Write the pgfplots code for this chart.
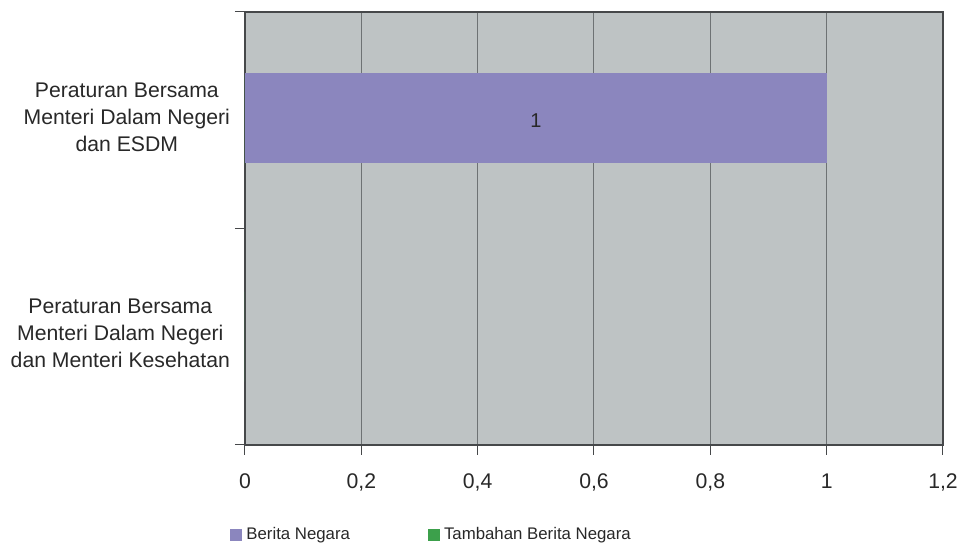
\documentclass[border=0pt]{standalone}
\usepackage{fontspec}
\setmainfont{Liberation Sans}
\usepackage{pgfplots}
\pgfplotsset{compat=1.18}
\definecolor{plotbg}{RGB}{190,195,196}
\definecolor{gridc}{RGB}{110,114,116}
\definecolor{axisc}{RGB}{70,72,74}
\definecolor{bnpurple}{RGB}{139,134,190}
\definecolor{tbngreen}{RGB}{60,160,75}
\definecolor{txt}{RGB}{40,40,40}
\begin{document}
\begin{tikzpicture}
\useasboundingbox (-122.5pt,-53pt) rectangle (357.5pt,222.5pt);
\begin{axis}[
  at={(0pt,0pt)}, anchor=south west,
  scale only axis, width=349pt, height=216.5pt,
  xmin=0, xmax=1.2, ymin=-0.5, ymax=1.5,
  axis background/.style={fill=plotbg},
  axis line style={axisc, line width=0.6pt},
  xtick={0,0.2,0.4,0.6,0.8,1,1.2},
  xtick pos=bottom, ytick pos=left,
  tick align=outside, major tick length=5pt,
  tick style={axisc, line width=0.5pt},
  xmajorgrids, grid style={gridc, line width=0.5pt},
  /pgf/number format/use comma,
  /pgf/number format/assume math mode=true,
  xticklabel style={font=\fontsize{10.6}{13}\selectfont, text=txt, yshift=-6pt},
  ytick={-0.5,0.5,1.5}, yticklabels={},
  extra y ticks={0,1},
  extra y tick labels={{Peraturan Bersama\\Menteri Dalam Negeri\\dan Menteri Kesehatan},
                       {Peraturan Bersama\\Menteri Dalam Negeri\\dan ESDM}},
  extra y tick style={major tick length=0pt},
  yticklabel style={font=\fontsize{10.6}{13.5}\selectfont, text=txt, align=center, xshift=-4pt, yshift=1.5pt},
  legend style={at={(-0.0215,-0.208)}, anchor=west, draw=none, fill=none,
    font=\fontsize{8.4}{10}\selectfont, text=txt, inner sep=0pt,
    /tikz/every even column/.append style={column sep=37pt}},
  legend columns=2,
  legend image code/.code={\fill[#1] (0pt,-3pt) rectangle (6pt,3pt);},
]
% Berita Negara
\addplot[xbar, bar width=45pt, bar shift=1.2pt, fill=bnpurple, draw=none,
  point meta=x, nodes near coords,
  visualization depends on={rawx \as \rawx},
  every node near coord/.append style={anchor=center, font=\fontsize{10}{11}\selectfont, text=txt,
    shift={(axis direction cs:-\rawx/2,0)}}]
  coordinates {(1,1)};
\addlegendentry{Berita Negara}
% Tambahan Berita Negara
\addplot[xbar, bar width=45pt, bar shift=0pt, fill=tbngreen, draw=none]
  coordinates {(0,0) (0,1)};
\addlegendentry{Tambahan Berita Negara}
\end{axis}
\end{tikzpicture}
\end{document}
